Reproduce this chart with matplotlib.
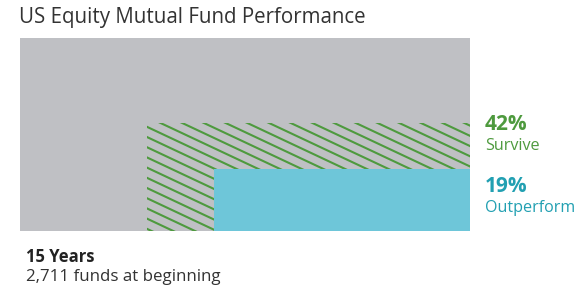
import numpy as np
import matplotlib
matplotlib.use("Agg")
import matplotlib.pyplot as plt
from matplotlib.patches import Rectangle

plt.rcParams['font.family'] = ['Open Sans', 'DejaVu Sans']

# data
title = "US Equity Mutual Fund Performance"
period = "15 Years"
start_note = "2,711 funds at beginning"
shares = [42, 19]                 # % of funds
share_labels = ["Survive", "Outperform"]

# layout / style
box_heights = [0.561, 0.320]      # fraction of the gray box height
area_scale = 0.959                # gray box area relative to 100 %
grey = "#bfc0c4"
green = "#4e9a3e"
blue = "#6ec6d9"
teal = "#22a0b2"

fig = plt.figure(figsize=(5.78, 2.92), dpi=100)
W, H = 578, 292
ax = fig.add_axes([20 / W, (H - 231) / H, 450 / W, 193 / H])
ax.set_xlim(0, 1)
ax.set_ylim(0, 1)
ax.axis("off")

ax.add_patch(Rectangle((0, 0), 1, 1, facecolor=grey, edgecolor="none"))

widths = [s / 100 * area_scale / h for s, h in zip(shares, box_heights)]

# survive box: hatched green lines
hx = 1 - widths[0]
clip = Rectangle((hx, 0), widths[0], box_heights[0], facecolor="none", edgecolor="none")
ax.add_patch(clip)
slope_d = -0.47 * 450 / 193
step = 10.2 / 193
xs = np.array([hx - 0.05, 1.05])
for b in np.arange(-0.2, box_heights[0] + 1.2, step):
    ys = b + slope_d * (xs - hx)
    ln, = ax.plot(xs, ys, color=green, lw=1.5, solid_capstyle="butt")
    ln.set_clip_path(clip)

# outperform box
ax.bar(1 - widths[1], box_heights[1], width=widths[1], align="edge",
       color=blue, edgecolor="none", zorder=3)

fig.text(19 / W, 1 - 18 / H, title, fontsize=14.8, color="#333333", va="center", ha="left")

label_y = [(125, 146), (186, 208)]
colors = [green, teal]
for s, lab, (y1, y2), c in zip(shares, share_labels, label_y, colors):
    fig.text(485 / W, 1 - y1 / H, f"{s}%", fontsize=15, fontweight="bold", color=c,
             va="center", ha="left")
    fig.text(485 / W, 1 - y2 / H, lab, fontsize=11.6, color=c, va="center", ha="left")

fig.text(26 / W, 1 - 257 / H, period, fontsize=12, fontweight="bold", color="#222222",
         va="center", ha="left")
fig.text(26 / W, 1 - 277 / H, start_note, fontsize=12.2, color="#333333",
         va="center", ha="left")

fig.savefig("out.png", dpi=100, facecolor="white")
